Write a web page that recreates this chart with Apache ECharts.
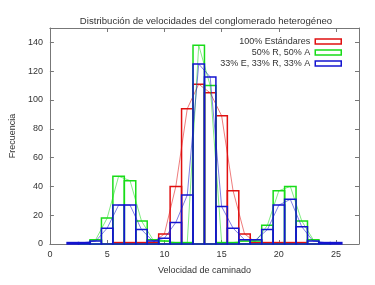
<!DOCTYPE html>
<html>
<head>
<meta charset="utf-8">
<script src="https://cdn.jsdelivr.net/npm/echarts@6/dist/echarts.min.js"></script>
<style>
  html, body { margin: 0; padding: 0; background: #fff; }
  #chart { width: 375px; height: 285px; }
</style>
</head>
<body>
<div id="chart"></div>
<script>
// bin centres (velocidad), width 1
const bins = [1, 2, 3, 4, 5, 6, 7, 8, 9, 10, 11, 12, 13, 14, 15, 16, 17, 18, 19, 20, 21, 22, 23, 24, 25, 26]
// frecuencias (null = sin barra)
const estandares = [null, null, null, null, 0, 1, 1, 1, 1, 7, 40, 94, 111, 105, 89, 37, 7, 1, 1, 1, 1, 1, 0, null, null, null]
const mitadRA = [null, null, 0, 3, 18, 47, 44, 16, 3, 2, 1, 1, 138, 110, 1, 1, 2, 2, 13, 37, 40, 16, 3, 0, null, null]
const tercios = [null, 1, 1, 2, 11, 27, 27, 10, 2, 4, 15, 34, 125, 116, 26, 11, 3, 3, 10, 27, 31, 12, 2, 1, 1, null]

const names = ['100% Estándares', '50% R, 50% A', '33% E, 33% R, 33% A']
const colors = ['#e01010', '#18dc18', '#1414d0']
const values = [estandares, mitadRA, tercios]

const xTicks = [0, 5, 10, 15, 20, 25]

const chart = echarts.init(document.getElementById('chart'))

const toPairs = (vals) => bins.map((b, i) => [b, vals[i]]).filter((d) => d[1] !== null)

const series = []
values.forEach((vals, k) => {
  series.push({
    name: names[k],
    type: 'custom',
    xAxisIndex: 0,
    yAxisIndex: 0,
    data: toPairs(vals),
    z: 2 + k * 2,
    renderItem: (params, api) => {
      const x = api.value(0)
      const v = api.value(1)
      const p0 = api.coord([x - 0.5, 0])
      const p1 = api.coord([x + 0.5, v])
      return {
        type: 'rect',
        shape: { x: p0[0], y: p1[1], width: p1[0] - p0[0], height: p0[1] - p1[1] },
        style: { fill: 'none', stroke: colors[k], lineWidth: 1.5 },
      }
    },
  })
  // poligono de frecuencias
  series.push({
    name: names[k],
    type: 'line',
    data: toPairs(vals),
    symbol: 'none',
    z: 3 + k * 2,
    lineStyle: { color: colors[k], width: 1, opacity: 0.55 },
    itemStyle: { color: colors[k] },
  })
})

const font = 'Liberation Sans, Arial, sans-serif'
const axisCommon = {
  axisLine: { show: true, onZero: false, lineStyle: { color: '#777', width: 1 } },
  axisTick: { show: true, inside: true, length: 4, lineStyle: { color: '#777' } },
  splitLine: { show: false },
}

const option = {
  animation: false,
  textStyle: { fontFamily: font },
  title: {
    text: 'Distribución de velocidades del conglomerado heterogéneo',
    left: 201,
    textAlign: 'center',
    top: 11,
    textStyle: { fontSize: 9.6, fontWeight: 'normal', color: '#333', fontFamily: font },
  },
  legend: {
    orient: 'vertical',
    right: 28,
    top: 31,
    align: 'right',
    itemWidth: 26,
    itemHeight: 5,
    itemGap: 0,
    textStyle: { fontSize: 9, color: '#333', lineHeight: 11, fontFamily: font },
    data: names.map((n, k) => ({
      name: n,
      icon: 'rect',
      itemStyle: { color: '#fff', borderColor: colors[k], borderWidth: 1.5 },
    })),
  },
  grid: { left: 47, right: 16, top: 28, bottom: 41 },
  xAxis: [
    {
      ...axisCommon,
      type: 'value',
      min: 0,
      max: 27,
      interval: 5,
      name: 'Velocidad de caminado',
      nameLocation: 'middle',
      nameGap: 22,
      nameTextStyle: { fontSize: 9, color: '#333', fontFamily: font },
      axisLabel: {
        fontSize: 9,
        color: '#333',
        margin: 6,
        formatter: (v) => (xTicks.includes(v) ? String(v) : ''),
      },
    },
    {
      ...axisCommon,
      type: 'value',
      position: 'top',
      min: 0,
      max: 27,
      interval: 5,
      axisLabel: { show: false },
    },
  ],
  yAxis: [
    {
      ...axisCommon,
      type: 'value',
      min: 0,
      max: 150,
      interval: 20,
      name: 'Frecuencia',
      nameLocation: 'middle',
      nameGap: 28,
      nameTextStyle: { fontSize: 9, color: '#333', fontFamily: font },
      axisLabel: {
        fontSize: 9,
        color: '#333',
        margin: 7,
        formatter: (v) => (v % 20 === 0 ? String(v) : ''),
      },
    },
    {
      ...axisCommon,
      type: 'value',
      position: 'right',
      min: 0,
      max: 150,
      interval: 20,
      axisLabel: { show: false },
    },
  ],
  series: series,
}

chart.setOption(option)
</script>
</body>
</html>
